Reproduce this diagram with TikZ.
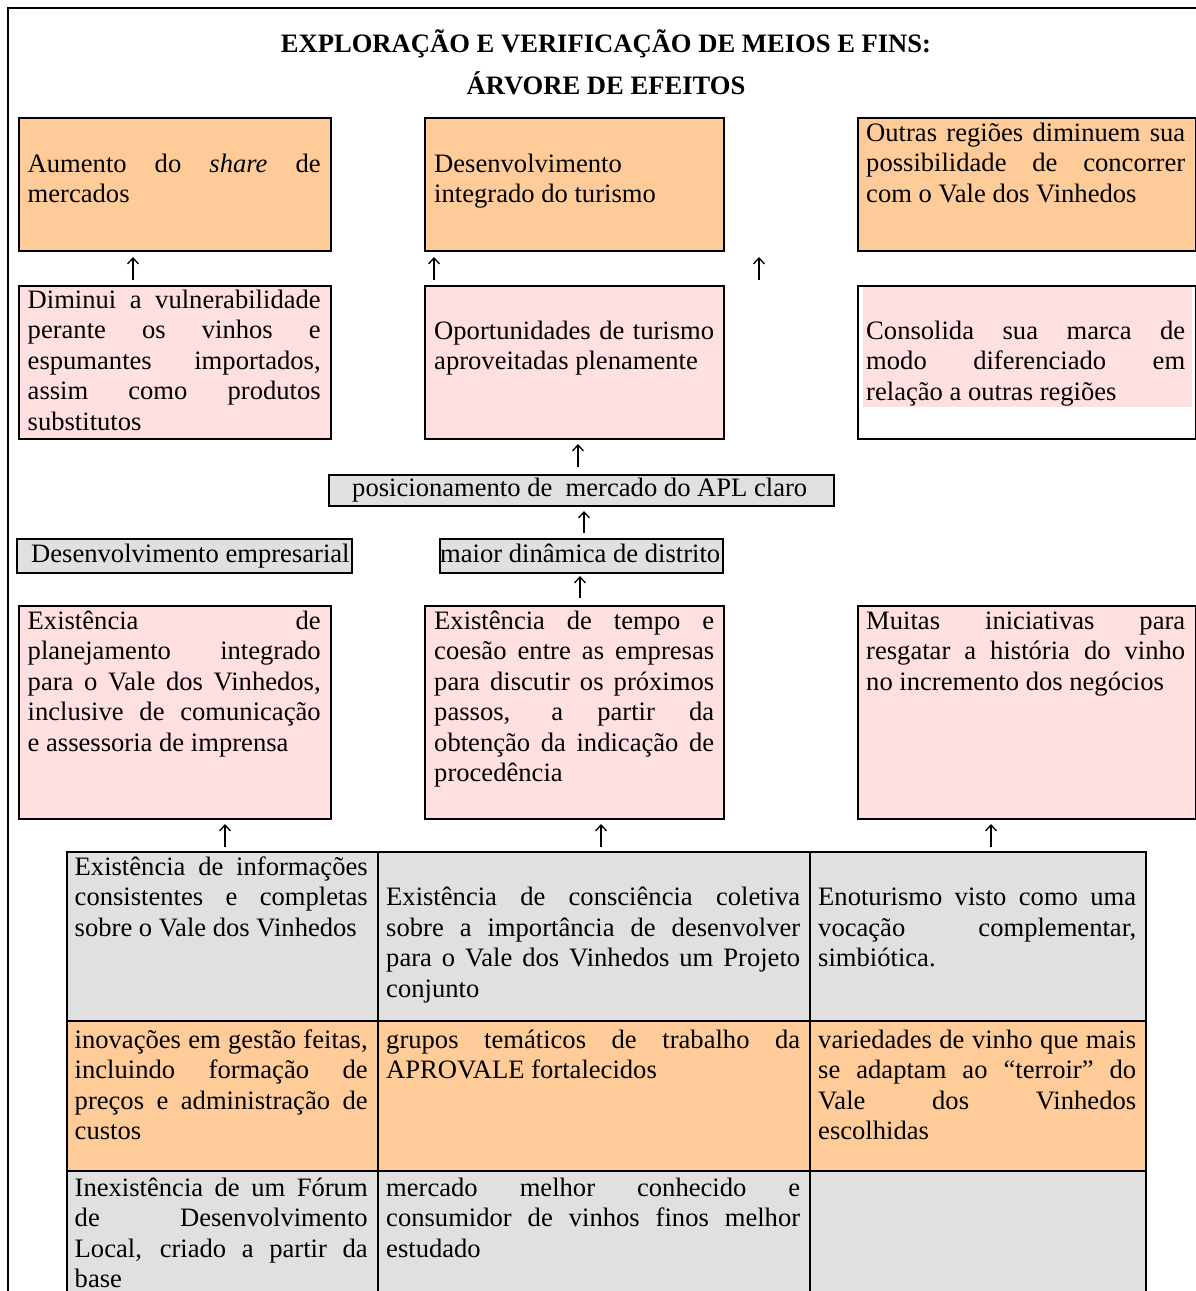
\documentclass[tikz,border=0pt]{standalone}
\usepackage{fontspec}
\setmainfont{Liberation Serif}
\usetikzlibrary{calc,arrows.meta}
\definecolor{peach}{HTML}{FFCC99}
\definecolor{blush}{HTML}{FFDFE0}
\definecolor{lightgrey}{HTML}{E0E0E0}
\newcommand{\bodyfont}{\fontsize{26.6pt}{30.5pt}\selectfont
  \parindent=0pt \tolerance=10000 \hyphenpenalty=10000 \hbadness=10000}
\begin{document}
\begin{tikzpicture}[x=1pt,y=-1pt,
  box/.style={draw, line width=2pt, inner sep=0pt, anchor=north west},
  txt/.style={inner sep=0pt, anchor=north west, align=justify, font=\bodyfont},
  line/.style={inner sep=0pt, anchor=base west, font=\bodyfont},
  uparr/.style={line width=1.3pt, -{Straight Barb[length=6pt,width=11pt]}},
  ]
\path[use as bounding box] (0,0) rectangle (1196,1291);
\clip (0,0) rectangle (1196,1291);

% outer frame
\node[box, minimum width=1250, minimum height=1350] (frame) at (7,7) {};

% title
\node[inner sep=0pt, anchor=base, font=\bodyfont\bfseries] (title1) at (606,52)
  {EXPLORAÇÃO E VERIFICAÇÃO DE MEIOS E FINS:};
\node[inner sep=0pt, anchor=base, font=\bodyfont\bfseries] (title2) at (606,94)
  {ÁRVORE DE EFEITOS};

% ---------- first row: ends ----------
\node[box, fill=peach, minimum width=312, minimum height=133] (a1) at (18,117) {};
\node[box, fill=peach, minimum width=299, minimum height=133] (a2) at (424,117) {};
\node[box, fill=peach, minimum width=338, minimum height=133] (a3) at (857,117) {};
\node[txt, text width=293] (a1t) at ($(a1.north west)+(9.5,33.65)$)
  {\strut Aumento do \textit{share} de \linebreak mercados};
\node[txt, text width=280] (a2t) at ($(a2.north west)+(10,33.65)$)
  {\strut Desenvolvimento \linebreak integrado do turismo};
\node[txt, text width=319] (a3t) at ($(a3.north west)+(9,2.65)$)
  {\strut Outras regiões diminuem sua \linebreak possibilidade de concorrer \linebreak com o Vale dos Vinhedos};

% ---------- second row ----------
\node[box, fill=blush, minimum width=312, minimum height=153] (b1) at (18,285) {};
\node[box, fill=blush, minimum width=299, minimum height=153] (b2) at (424,285) {};
\node[box, fill=white, minimum width=338, minimum height=153] (b3) at (857,285) {};
\fill[blush] ($(b3.north west)+(6,2)$) rectangle ($(b3.north west)+(335,122)$);
\node[txt, text width=293] (b1t) at ($(b1.north west)+(9.5,1.65)$)
  {\strut Diminui a vulnerabilidade \linebreak perante os vinhos e \linebreak espumantes importados, \linebreak assim como produtos \linebreak substitutos};
\node[txt, text width=280] (b2t) at ($(b2.north west)+(10,32.65)$)
  {\strut Oportunidades de turismo \linebreak aproveitadas plenamente};
\node[txt, text width=319] (b3t) at ($(b3.north west)+(9,32.65)$)
  {\strut Consolida sua marca de \linebreak modo diferenciado em \linebreak relação a outras regiões};

% ---------- single-line boxes ----------
\node[box, fill=lightgrey, minimum width=505, minimum height=31] (p) at (328,474) {};
\node[line] (pt) at ($(p.north west)+(24,22)$) {posicionamento de\ \ mercado do APL claro};
\node[box, fill=lightgrey, minimum width=335, minimum height=34] (d1) at (16,538) {};
\node[line] (d1t) at ($(d1.north west)+(15,24)$) {Desenvolvimento empresarial};
\node[box, fill=lightgrey, minimum width=283, minimum height=34] (d2) at (439,538) {};
\node[line] (d2t) at ($(d2.north west)+(1,24)$) {maior dinâmica de distrito};

% ---------- third row ----------
\node[box, fill=blush, minimum width=312, minimum height=213] (c1) at (18,605) {};
\node[box, fill=blush, minimum width=299, minimum height=213] (c2) at (424,605) {};
\node[box, fill=blush, minimum width=338, minimum height=213] (c3) at (857,605) {};
\node[txt, text width=293] (c1t) at ($(c1.north west)+(9.5,2.65)$)
  {\strut Existência de \linebreak planejamento integrado \linebreak para o Vale dos Vinhedos, \linebreak inclusive de comunicação \linebreak e assessoria de imprensa};
\node[txt, text width=280] (c2t) at ($(c2.north west)+(10,2.65)$)
  {\strut Existência de tempo e \linebreak coesão entre as empresas \linebreak para discutir os próximos \linebreak passos, a partir da \linebreak obtenção da indicação de \linebreak procedência};
\node[txt, text width=319] (c3t) at ($(c3.north west)+(9,2.65)$)
  {\strut Muitas iniciativas para \linebreak resgatar a história do vinho \linebreak no incremento dos negócios};

% ---------- table of means ----------
\node[box, fill=lightgrey, minimum width=311, minimum height=169] (t11) at (66,851) {};
\node[box, fill=lightgrey, minimum width=432, minimum height=169] (t12) at (377,851) {};
\node[box, fill=lightgrey, minimum width=336, minimum height=169] (t13) at (809,851) {};
\node[box, fill=peach, minimum width=311, minimum height=150] (t21) at (66,1020) {};
\node[box, fill=peach, minimum width=432, minimum height=150] (t22) at (377,1020) {};
\node[box, fill=peach, minimum width=336, minimum height=150] (t23) at (809,1020) {};
\node[box, fill=lightgrey, minimum width=311, minimum height=160] (t31) at (66,1170) {};
\node[box, fill=lightgrey, minimum width=432, minimum height=160] (t32) at (377,1170) {};
\node[box, fill=lightgrey, minimum width=336, minimum height=160] (t33) at (809,1170) {};

\node[txt, text width=293] (t11t) at ($(t11.north west)+(8.5,2.65)$)
  {\strut Existência de informações \linebreak consistentes e completas \linebreak sobre o Vale dos Vinhedos};
\node[txt, text width=414] (t12t) at ($(t12.north west)+(9,33.15)$)
  {\strut Existência de consciência coletiva \linebreak sobre a importância de desenvolver \linebreak para o Vale dos Vinhedos um Projeto \linebreak conjunto};
\node[txt, text width=318] (t13t) at ($(t13.north west)+(9,33.15)$)
  {\strut Enoturismo visto como uma \linebreak vocação complementar, \linebreak simbiótica.};
\node[txt, text width=293] (t21t) at ($(t21.north west)+(8.5,6.65)$)
  {\strut inovações em gestão feitas, \linebreak incluindo formação de \linebreak preços e administração de \linebreak custos};
\node[txt, text width=414] (t22t) at ($(t22.north west)+(9,6.65)$)
  {\strut grupos temáticos de trabalho da \linebreak APROVALE fortalecidos};
\node[txt, text width=318] (t23t) at ($(t23.north west)+(9,6.65)$)
  {\strut variedades de vinho que mais \linebreak se adaptam ao “terroir” do \linebreak Vale dos Vinhedos \linebreak escolhidas};
\node[txt, text width=293] (t31t) at ($(t31.north west)+(8.5,4.65)$)
  {\strut Inexistência de um Fórum \linebreak de Desenvolvimento \linebreak Local, criado a partir da \linebreak base};
\node[txt, text width=414] (t32t) at ($(t32.north west)+(9,4.65)$)
  {\strut mercado melhor conhecido e \linebreak consumidor de vinhos finos melhor \linebreak estudado};

% ---------- arrows ----------
\coordinate (xa1) at (133,0);
\coordinate (xa2) at (434,0);
\coordinate (xa3) at (759,0);
\coordinate (xb) at (578,0);
\coordinate (xp) at (584,0);
\coordinate (xd) at (580,0);
\coordinate (xc1) at (225,0);
\coordinate (xc2) at (601,0);
\coordinate (xc3) at (991,0);

\draw[uparr] ($(b1.north -| xa1)+(0,-5)$) -- ($(a1.south -| xa1)+(0,5)$);
\draw[uparr] ($(b2.north -| xa2)+(0,-5)$) -- ($(a2.south -| xa2)+(0,5)$);
\draw[uparr] ($(b2.north -| xa3)+(0,-5)$) -- ($(a2.south -| xa3)+(0,5)$);
\draw[uparr] ($(p.north -| xb)+(0,-7)$) -- ($(b2.south -| xb)+(0,4)$);
\draw[uparr] ($(d2.north -| xp)+(0,-5)$) -- ($(p.south -| xp)+(0,4)$);
\draw[uparr] ($(c2.north -| xd)+(0,-7)$) -- ($(d2.south -| xd)+(0,2)$);
\draw[uparr] ($(t11.north -| xc1)+(0,-4)$) -- ($(c1.south -| xc1)+(0,4)$);
\draw[uparr] ($(t12.north -| xc2)+(0,-4)$) -- ($(c2.south -| xc2)+(0,4)$);
\draw[uparr] ($(t13.north -| xc3)+(0,-4)$) -- ($(c3.south -| xc3)+(0,4)$);
\end{tikzpicture}
\end{document}
